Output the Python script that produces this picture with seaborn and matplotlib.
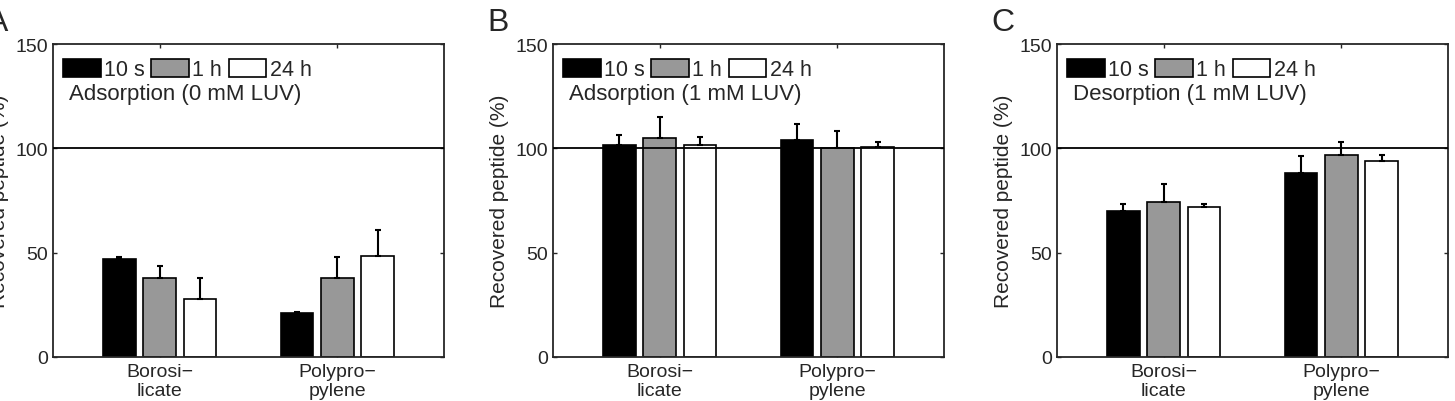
import numpy as np
import pandas as pd
import seaborn as sns
import matplotlib.pyplot as plt

# ---- dados (ordem: Borosilicate 10 s, 1 h, 24 h, Polypropylene 10 s, 1 h, 24 h)
surfaces = ['Borosi\u2212\nlicate', 'Polypro\u2212\npylene']
times = ['10 s', '1 h', '24 h']

ads0_mean = [47, 38, 28, 21, 38, 48.5]
ads0_err = [1, 5.5, 10, 0.6, 10, 12.5]
ads1_mean = [101.5, 105, 101.5, 104, 100, 100.5]
ads1_err = [5, 10, 4, 7.5, 8.5, 2.5]
des1_mean = [70, 74.5, 72, 88, 97, 94]
des1_err = [3.5, 8.5, 1.5, 8.5, 6, 3]

panels = [
    ('A', 'Adsorption (0 mM LUV)', ads0_mean, ads0_err),
    ('B', 'Adsorption (1 mM LUV)', ads1_mean, ads1_err),
    ('C', 'Desorption (1 mM LUV)', des1_mean, des1_err),
]
colors = ['black', '#989898', 'white']

sns.set_style('ticks')
plt.rcParams['font.family'] = ['Liberation Sans', 'DejaVu Sans']

W, H = 1455, 402
fig = plt.figure(figsize=(W / 100, H / 100), dpi=100)
lefts = [53, 553, 1057]
ax_w, ax_h = 391, 313
ax_top = 45

for left, (letter, label, mean, err) in zip(lefts, panels):
    ax = fig.add_axes([left / W, (H - ax_top - ax_h) / H, ax_w / W, ax_h / H])
    df = pd.DataFrame({
        'surface': np.repeat(surfaces, len(times)),
        'time': times * len(surfaces),
        'value': mean,
        'err': err,
    })
    sns.barplot(data=df, x='surface', y='value', hue='time', order=surfaces,
                hue_order=times, palette=colors, edgecolor='black', linewidth=1.2,
                width=0.68, gap=0.19, errorbar=None, legend=False, ax=ax)
    bars = list(ax.containers)

    # barras de erro (somente para cima)
    for j, cont in enumerate(bars):
        for i, bar in enumerate(cont.patches):
            k = i * len(times) + j
            x = bar.get_x() + bar.get_width() / 2
            ax.errorbar(x, df['value'][k], yerr=[[0], [df['err'][k]]], fmt='none',
                        ecolor='black', elinewidth=1.5, capsize=2, capthick=1.5, zorder=1)

    ax.axhline(100, color='black', lw=1.3, zorder=3)
    ax.set_xlim(-0.6, 1.6)
    ax.set_ylim(0, 150)
    ax.set_yticks([0, 50, 100, 150])
    ax.set_xlabel('')
    ax.set_ylabel('Recovered peptide (%)', fontsize=15, labelpad=5)
    ax.tick_params(direction='in', top=True, right=True, length=3, width=1,
                   labelsize=14, pad=3.5)
    ax.tick_params(axis='x', labelsize=14, pad=4)
    for sp in ax.spines.values():
        sp.set_visible(True)
        sp.set_linewidth(1.3)

    ax.legend(handles=bars, labels=times, ncol=3, frameon=False,
              loc='upper left', bbox_to_anchor=(-0.012, 1.0), fontsize=15.5,
              handlelength=1.75, handleheight=0.9, handletextpad=0.15,
              columnspacing=0.3, borderaxespad=0.3)
    ax.text(0.041, 0.843, label, transform=ax.transAxes, fontsize=16, va='center')
    fig.text((left - 66) / W, 1 - 8 / H, letter, fontsize=23, va='top', ha='left')

fig.savefig('out.png', dpi=100)
